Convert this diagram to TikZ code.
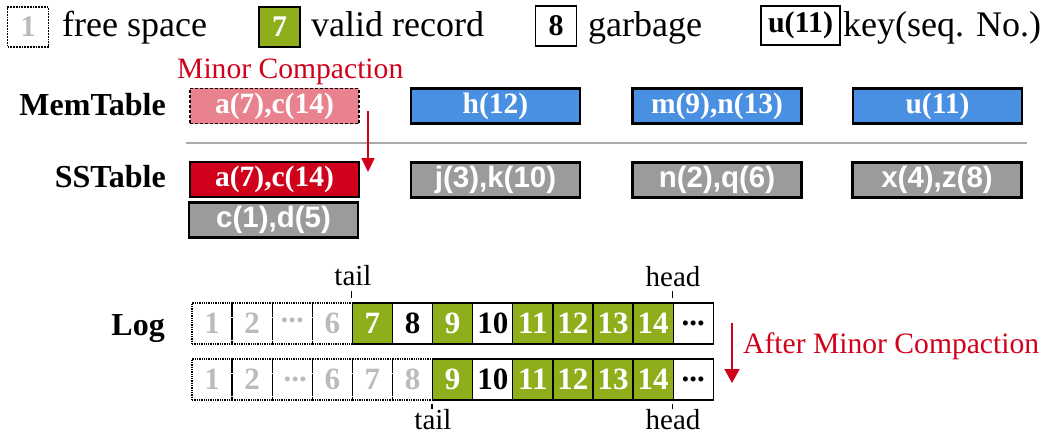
\documentclass[tikz,border=0pt]{standalone}
\usepackage{fontspec}
\setmainfont{Liberation Serif}
\newfontfamily\arialfont{Liberation Sans}
\usetikzlibrary{arrows.meta}
\definecolor{olivec}{HTML}{8FAE1B}
\definecolor{bluec}{HTML}{4A90E2}
\definecolor{pinkc}{HTML}{E8828E}
\definecolor{redc}{HTML}{D0021B}
\definecolor{grayc}{HTML}{9B9B9B}
\definecolor{linec}{HTML}{AAAAAA}
\definecolor{freec}{HTML}{BBBBBB}
\tikzset{
  legtext/.style={anchor=base west, inner sep=0pt, font=\fontsize{36}{36}\selectfont},
  legbox/.style={draw=black, line width=1.8pt, inner sep=0pt, minimum width=41pt, minimum height=40pt, font=\fontsize{30}{30}\selectfont\bfseries},
  rowlabel/.style={anchor=base east, inner sep=0pt, font=\fontsize{32}{32}\selectfont\bfseries},
  redtext/.style={anchor=base west, inner sep=0pt, text=redc, font=\fontsize{29.6}{30}\selectfont},
  keybox/.style={draw=black, line width=2.4pt, inner sep=0pt, minimum width=169pt, minimum height=35pt, text=white, font=\fontsize{29.5}{29.5}\selectfont\bfseries},
  bluebox/.style={keybox, fill=bluec},
  graybox/.style={keybox, fill=grayc, font=\fontsize{29.5}{29.5}\selectfont\arialfont\bfseries},
  cell/.style={draw=black, line width=1.3pt, inner sep=0pt, minimum width=40.1pt, minimum height=41pt, font=\fontsize{31}{31}\selectfont\bfseries},
  freecell/.style={cell, densely dotted, text=freec},
  validcell/.style={cell, fill=olivec, text=white},
  garbcell/.style={cell, fill=white, text=black},
  ptrtext/.style={anchor=base, inner sep=0pt, font=\fontsize{29}{29}\selectfont},
  tick/.style={line width=1.1pt},
  redarrow/.style={draw=redc, line width=1.8pt, -{Triangle[width=13pt,length=14pt]}}
}
\begin{document}
\begin{tikzpicture}[x=1pt,y=-1pt]
\useasboundingbox (0,0) rectangle (1050,436);

% ---------- legend ----------
\node[legbox, densely dotted, text=freec, minimum width=41pt] (lfree) at (28,27) {1};
\node[legtext] (tfree) at (62,37) {free space};
\node[legbox, fill=olivec, text=white] (lvalid) at (279.5,27) {7};
\node[legtext] (tvalid) at (311,37) {valid record};
\node[legbox, line width=1.3pt] (lgarb) at (556,26) {8};
\node[legtext] (tgarb) at (588,37) {garbage};
\node[legbox, line width=2.2pt, minimum width=79pt, minimum height=39pt] (lkey) at (800.5,25.5) {u(11)};
\node[legtext] (tkey) at (843,37) {key(seq. No.)};

% ---------- MemTable / SSTable ----------
\node[redtext] (mc) at (177,78) {Minor Compaction};
\node[rowlabel] (lmem) at (166,115) {MemTable};
\node[rowlabel] (lss) at (166,187) {SSTable};

\node[keybox, fill=pinkc, line width=1.8pt, densely dashed] (mem1) at (274.5,106) {a(7),c(14)};
\node[bluebox] (mem2) at (495.5,106) {h(12)};
\node[bluebox] (mem3) at (717,106) {m(9),n(13)};
\node[bluebox] (mem4) at (937.5,106) {u(11)};

\draw[linec, line width=1.8pt] (186,143) coordinate (sepA) -- (1027,143) coordinate (sepB);

\node[keybox, fill=redc] (ss1) at (274.5,179.5) {a(7),c(14)};
\node[graybox] (ss2) at (495.5,180) {j(3),k(10)};
\node[graybox] (ss3) at (717,180) {n(2),q(6)};
\node[graybox] (ss4) at (937,180) {x(4),z(8)};
\node[graybox] (ss5) at (273.5,220) {c(1),d(5)};

\coordinate (mcA) at (368,111);
\coordinate (mcB) at (368,172);
\draw[redarrow] (mcA) -- (mcB);

% ---------- Log ----------
\node[rowlabel] (llog) at (165,335) {Log};

% row 1
\node[freecell] (a1) at (212.05,323.5) {1};
\node[freecell] (a2) at (252.15,323.5) {2};
\node[freecell] (a3) at (292.25,323.5) {\raisebox{.22em}{...}};
\node[freecell] (a4) at (332.35,323.5) {6};
\node[validcell] (a5) at (372.45,323.5) {7};
\node[garbcell] (a6) at (412.55,323.5) {8};
\node[validcell] (a7) at (452.65,323.5) {9};
\node[garbcell] (a8) at (492.75,323.5) {10};
\node[validcell] (a9) at (532.85,323.5) {11};
\node[validcell] (a10) at (572.95,323.5) {12};
\node[validcell] (a11) at (613.05,323.5) {13};
\node[validcell] (a12) at (653.15,323.5) {14};
\node[garbcell] (a13) at (693.25,323.5) {...};

% row 2
\node[freecell] (b1) at (212.05,379.5) {1};
\node[freecell] (b2) at (252.15,379.5) {2};
\node[freecell] (b3) at (292.25,379.5) {\hspace*{6pt}...};
\node[freecell] (b4) at (332.35,379.5) {6};
\node[freecell] (b5) at (372.45,379.5) {7};
\node[freecell] (b6) at (412.55,379.5) {8};
\node[validcell] (b7) at (452.65,379.5) {9};
\node[garbcell] (b8) at (492.75,379.5) {10};
\node[validcell] (b9) at (532.85,379.5) {11};
\node[validcell] (b10) at (572.95,379.5) {12};
\node[validcell] (b11) at (613.05,379.5) {13};
\node[validcell] (b12) at (653.15,379.5) {14};
\node[garbcell] (b13) at (693.25,379.5) {...};

% pointers
\node[ptrtext] (tail1) at (353,285) {tail};
\node[ptrtext] (head1) at (673,286) {head};
\node[ptrtext] (tail2) at (433,429.5) {tail};
\node[ptrtext] (head2) at (673,429.5) {head};
\draw[tick] ([yshift=4pt]a5.north west) -- ([yshift=11pt]a5.north west);
\draw[tick] ([yshift=4pt]a13.north west) -- ([yshift=11pt]a13.north west);
\draw[tick] ([yshift=-3pt]b7.south west) -- ([yshift=-8pt]b7.south west);
\draw[tick] ([yshift=-3pt]b13.south west) -- ([yshift=-8pt]b13.south west);

% after minor compaction
\coordinate (acA) at (732,323);
\coordinate (acB) at (732,383);
\draw[redarrow, -{Triangle[width=15pt,length=14pt]}] (acA) -- (acB);
\node[redtext] (ac) at (743,353) {After Minor Compaction};
\end{tikzpicture}
\end{document}
